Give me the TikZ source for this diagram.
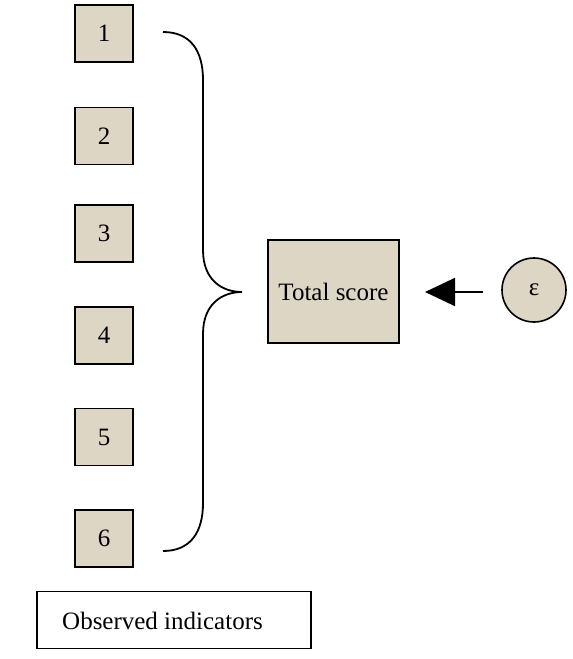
\documentclass[tikz,border=0pt]{standalone}
\usepackage{fontspec}
\setmainfont{Liberation Serif}
\usetikzlibrary{arrows.meta}
\definecolor{beige}{RGB}{222,214,197}
\begin{document}
\begin{tikzpicture}[x=1pt,y=-1pt,
  txt/.style={font=\fontsize{25}{29}\selectfont},
  ind/.style={draw=black,line width=1.8pt,fill=beige,minimum width=58pt,minimum height=57pt,inner sep=0pt,txt},
  link/.style={line width=1.8pt}]
\useasboundingbox (0,0) rectangle (573,659);
\foreach \i/\y in {1/33.5,2/136,3/233.5,4/335.5,5/437,6/538.5}
  \node[ind] (b\i) at (104,\y) {\i};
\node[draw=black,line width=1.8pt,fill=beige,minimum width=131pt,minimum height=103pt,inner sep=0pt,txt] (ts) at (333.5,291.5) {Total score};
\node[draw=black,line width=1.6pt,fill=beige,circle,minimum size=64pt,inner sep=0pt,txt] (eps) at (534,290) {ε};
\node[draw=black,line width=1.6pt,minimum width=274pt,minimum height=57pt,inner sep=0pt] (obs) at (174,620) {};
\node[txt,anchor=west,inner sep=0pt] (obst) at (62,621) {Observed indicators};
\coordinate (btop) at (163,32);
\coordinate (bbot) at (163,551);
\coordinate (tip) at (242,292);
\coordinate (astart) at (483,292);
\coordinate (aend) at (425,292);
\draw[link] (btop) .. controls (190,32) and (203,50) .. (203,80)
  -- (203,250) .. controls (203,280) and (222,292) .. (tip)
  .. controls (222,292) and (203,304) .. (203,334)
  -- (203,503) .. controls (203,533) and (190,551) .. (bbot);
\draw[link,-{Triangle[length=30pt,width=28pt]}] (astart) -- (aend);
\end{tikzpicture}
\end{document}
